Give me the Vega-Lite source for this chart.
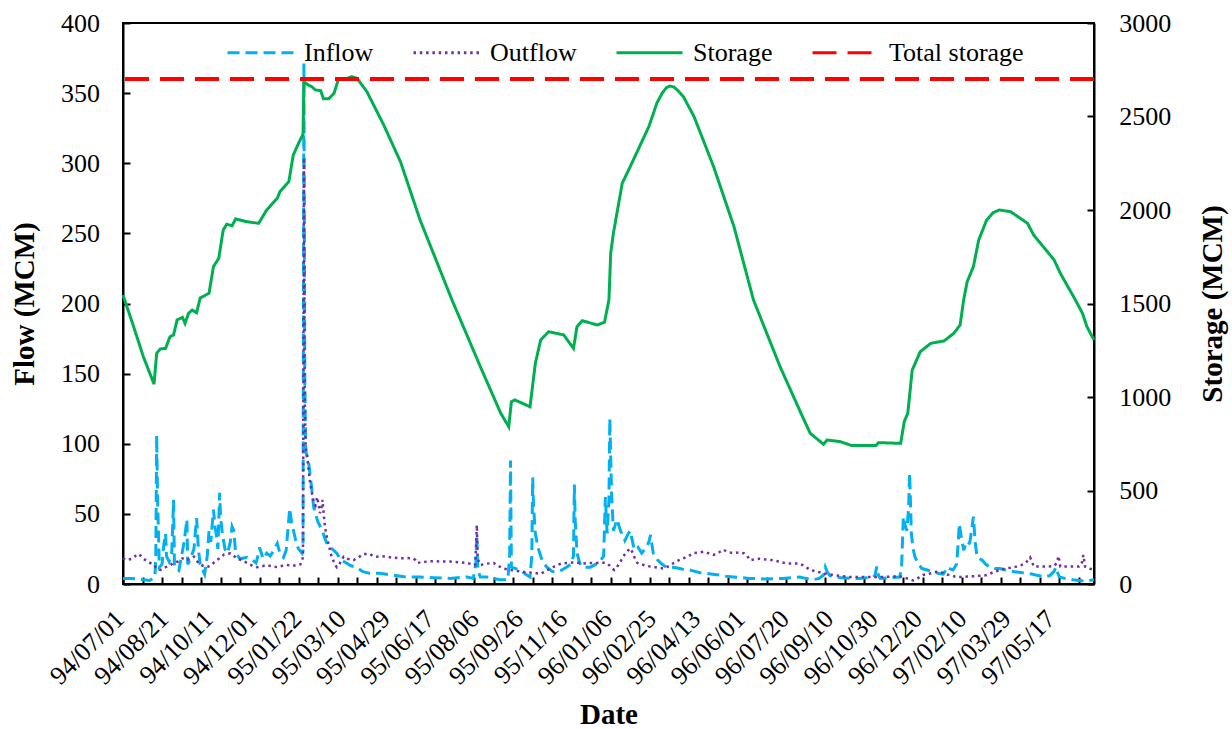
{
  "$schema": "https://vega.github.io/schema/vega-lite/v6.json",
  "autosize": {"type": "none"},
  "padding": {"left": 123, "top": 23, "right": 138, "bottom": 145},
  "width": 971,
  "height": 561,
  "background": "white",
  "config": {
    "font": "Liberation Serif",
    "view": {"stroke": "black", "strokeWidth": 2},
    "axis": {
      "grid": false,
      "domainColor": "black",
      "domainWidth": 2,
      "tickColor": "black",
      "tickWidth": 2,
      "labelColor": "black",
      "labelFont": "Liberation Serif",
      "labelFontSize": 26,
      "titleFont": "Liberation Serif",
      "titleFontSize": 29,
      "titleFontWeight": "bold",
      "titleColor": "black"
    },
    "legend": {
      "orient": "none",
      "legendX": 103,
      "legendY": -5,
      "direction": "horizontal",
      "columns": 4,
      "symbolType": "stroke",
      "symbolSize": 4356,
      "symbolStrokeWidth": 3,
      "labelFont": "Liberation Serif",
      "labelFontSize": 26,
      "labelColor": "black",
      "labelOffset": 9,
      "labelLimit": 300,
      "columnPadding": 33,
      "padding": 0
    }
  },
  "datasets": {
    "inflow": [
      {"d":0,"v":4},{"d":10,"v":4},{"d":23,"v":3},{"d":30,"v":2.5},{"d":36,"v":5},{"d":37,"v":20},{"d":38,"v":106},{"d":39,"v":60},{"d":40,"v":36},{"d":41,"v":12},{"d":44,"v":14},{"d":46,"v":28},{"d":48,"v":36},{"d":49,"v":20},{"d":52,"v":16},{"d":55,"v":22},{"d":57,"v":60},{"d":58,"v":14},{"d":61,"v":10},{"d":63,"v":9.5},{"d":66,"v":20},{"d":69,"v":30},{"d":72,"v":46},{"d":73,"v":14},{"d":76,"v":18},{"d":80,"v":25},{"d":83,"v":47},{"d":85,"v":25},{"d":87,"v":14},{"d":90,"v":10},{"d":92,"v":7},{"d":95,"v":20},{"d":97,"v":38},{"d":99,"v":30},{"d":102,"v":53},{"d":104,"v":40},{"d":105,"v":36},{"d":107,"v":25},{"d":109,"v":65},{"d":110,"v":48},{"d":112,"v":36},{"d":115,"v":25},{"d":118,"v":22},{"d":121,"v":30},{"d":123,"v":41},{"d":125,"v":38},{"d":127,"v":22},{"d":132,"v":18},{"d":140,"v":19},{"d":146,"v":17},{"d":150,"v":15},{"d":153,"v":22},{"d":154,"v":26},{"d":158,"v":18},{"d":162,"v":22},{"d":166,"v":20},{"d":170,"v":24},{"d":174,"v":29},{"d":177,"v":22},{"d":181,"v":19},{"d":184,"v":24},{"d":188,"v":54},{"d":190,"v":44},{"d":193,"v":36},{"d":196,"v":28},{"d":198,"v":25},{"d":202,"v":22},{"d":203,"v":24},{"d":204,"v":372},{"d":205,"v":150},{"d":206,"v":95},{"d":209,"v":88},{"d":211,"v":78},{"d":213,"v":67},{"d":215,"v":55},{"d":217,"v":50},{"d":220,"v":44},{"d":224,"v":39},{"d":228,"v":32},{"d":231,"v":27},{"d":236,"v":25},{"d":241,"v":22},{"d":246,"v":17},{"d":252,"v":15},{"d":257,"v":13},{"d":263,"v":12},{"d":270,"v":9},{"d":278,"v":7.6},{"d":289,"v":7.6},{"d":304,"v":6.4},{"d":319,"v":5},{"d":334,"v":5},{"d":350,"v":4.5},{"d":369,"v":4},{"d":388,"v":5},{"d":395,"v":4},{"d":398,"v":15},{"d":399,"v":35},{"d":400,"v":10},{"d":403,"v":5},{"d":410,"v":5},{"d":418,"v":4},{"d":425,"v":3},{"d":434,"v":3},{"d":436,"v":20},{"d":437,"v":88},{"d":438,"v":12},{"d":443,"v":11},{"d":448,"v":10},{"d":454,"v":7},{"d":459,"v":5},{"d":461,"v":20},{"d":462,"v":76},{"d":463,"v":55},{"d":465,"v":36},{"d":468,"v":26},{"d":473,"v":16},{"d":478,"v":12},{"d":484,"v":9},{"d":489,"v":8.5},{"d":495,"v":10},{"d":500,"v":12},{"d":505,"v":14},{"d":508,"v":20},{"d":509,"v":71},{"d":510,"v":45},{"d":512,"v":22},{"d":515,"v":15},{"d":518,"v":12},{"d":523,"v":12},{"d":527,"v":12},{"d":533,"v":14},{"d":539,"v":17},{"d":542,"v":20},{"d":544,"v":62},{"d":545,"v":48},{"d":546,"v":36},{"d":548,"v":60},{"d":549,"v":118},{"d":550,"v":90},{"d":551,"v":64},{"d":553,"v":38},{"d":555,"v":42},{"d":557,"v":46},{"d":559,"v":42},{"d":561,"v":38},{"d":564,"v":34},{"d":566,"v":31},{"d":569,"v":35},{"d":572,"v":38},{"d":574,"v":32},{"d":576,"v":26},{"d":579,"v":24},{"d":581,"v":26},{"d":583,"v":24},{"d":585,"v":22},{"d":590,"v":26},{"d":593,"v":30},{"d":595,"v":35},{"d":596,"v":30},{"d":598,"v":22},{"d":603,"v":17},{"d":608,"v":14},{"d":613,"v":12},{"d":620,"v":12},{"d":628,"v":11},{"d":634,"v":10},{"d":639,"v":10},{"d":645,"v":9},{"d":651,"v":8},{"d":657,"v":7.6},{"d":665,"v":7},{"d":673,"v":6.4},{"d":680,"v":5.5},{"d":688,"v":5},{"d":697,"v":4.5},{"d":706,"v":4},{"d":715,"v":3.8},{"d":725,"v":3.5},{"d":735,"v":3.8},{"d":744,"v":4},{"d":754,"v":4.5},{"d":763,"v":5},{"d":770,"v":4},{"d":778,"v":3},{"d":785,"v":4},{"d":790,"v":6.4},{"d":792,"v":12},{"d":794,"v":8.8},{"d":797,"v":6},{"d":801,"v":5},{"d":810,"v":4.5},{"d":820,"v":4},{"d":830,"v":4},{"d":839,"v":4.5},{"d":845,"v":4.5},{"d":848,"v":6},{"d":850,"v":12.4},{"d":852,"v":6},{"d":854,"v":4},{"d":865,"v":4.5},{"d":876,"v":5},{"d":878,"v":12},{"d":880,"v":48},{"d":882,"v":42},{"d":884,"v":38},{"d":886,"v":55},{"d":887,"v":79},{"d":888,"v":60},{"d":889,"v":36},{"d":891,"v":25},{"d":893,"v":19.5},{"d":897,"v":14},{"d":901,"v":11},{"d":907,"v":10},{"d":914,"v":8.5},{"d":920,"v":7.5},{"d":925,"v":7},{"d":927,"v":9},{"d":929,"v":12},{"d":932,"v":11},{"d":936,"v":10},{"d":940,"v":14},{"d":942,"v":30},{"d":943,"v":43},{"d":945,"v":35},{"d":948,"v":24},{"d":950,"v":28},{"d":952,"v":26.5},{"d":955,"v":30},{"d":957,"v":38},{"d":959,"v":48},{"d":961,"v":30},{"d":963,"v":19.5},{"d":966,"v":18},{"d":969,"v":17},{"d":973,"v":14},{"d":978,"v":12},{"d":983,"v":11},{"d":989,"v":11},{"d":995,"v":10},{"d":1001,"v":9},{"d":1008,"v":8.5},{"d":1014,"v":8},{"d":1020,"v":7.5},{"d":1026,"v":7},{"d":1032,"v":6},{"d":1039,"v":5},{"d":1045,"v":6},{"d":1050,"v":9},{"d":1052,"v":12},{"d":1054,"v":8},{"d":1056,"v":5},{"d":1062,"v":4},{"d":1071,"v":3},{"d":1078,"v":2.5},{"d":1086,"v":2},{"d":1090,"v":2.5},{"d":1095,"v":3}
    ],
    "outflow": [
      {"d":0,"v":18.3},{"d":4,"v":17},{"d":10,"v":18},{"d":14,"v":20},{"d":18,"v":21.4},{"d":23,"v":18},{"d":28,"v":16},{"d":35,"v":13.5},{"d":38,"v":11},{"d":42,"v":10},{"d":48,"v":12},{"d":52,"v":13},{"d":57,"v":15},{"d":62,"v":16},{"d":67,"v":18.3},{"d":72,"v":17},{"d":76,"v":18},{"d":80,"v":19.5},{"d":85,"v":15},{"d":90,"v":13},{"d":95,"v":12},{"d":98,"v":13},{"d":102,"v":15},{"d":108,"v":18},{"d":114,"v":21},{"d":121,"v":21.8},{"d":125,"v":20},{"d":129,"v":18},{"d":134,"v":17},{"d":140,"v":15},{"d":146,"v":13},{"d":151,"v":12},{"d":156,"v":12.5},{"d":162,"v":13.5},{"d":168,"v":12.5},{"d":174,"v":12},{"d":180,"v":13},{"d":185,"v":13.5},{"d":191,"v":13},{"d":196,"v":13.5},{"d":200,"v":14},{"d":202,"v":16},{"d":203,"v":20},{"d":204,"v":304},{"d":205,"v":130},{"d":206,"v":98},{"d":209,"v":84},{"d":211,"v":72},{"d":213,"v":65},{"d":215,"v":58},{"d":217,"v":56},{"d":219,"v":62},{"d":221,"v":55},{"d":222,"v":50.5},{"d":224,"v":55},{"d":225,"v":60},{"d":227,"v":45},{"d":229,"v":36},{"d":232,"v":28},{"d":235,"v":20},{"d":237,"v":17},{"d":239,"v":14},{"d":241,"v":12},{"d":244,"v":14},{"d":247,"v":18},{"d":249,"v":19.5},{"d":253,"v":18},{"d":257,"v":17.5},{"d":260,"v":17},{"d":264,"v":18.5},{"d":268,"v":20},{"d":271,"v":21.4},{"d":275,"v":21.4},{"d":278,"v":21.4},{"d":282,"v":20},{"d":286,"v":19.5},{"d":291,"v":19.8},{"d":297,"v":19.5},{"d":304,"v":18.8},{"d":312,"v":18.3},{"d":320,"v":18.5},{"d":327,"v":18.3},{"d":330,"v":17},{"d":332,"v":15},{"d":336,"v":15.5},{"d":343,"v":16},{"d":350,"v":16.3},{"d":360,"v":16},{"d":369,"v":16},{"d":378,"v":15.5},{"d":388,"v":15},{"d":394,"v":14},{"d":397,"v":13.5},{"d":398,"v":25},{"d":399,"v":42},{"d":400,"v":18},{"d":403,"v":13.5},{"d":410,"v":14.5},{"d":418,"v":15},{"d":423,"v":13},{"d":429,"v":11},{"d":437,"v":10},{"d":444,"v":9.3},{"d":452,"v":8.6},{"d":460,"v":8},{"d":466,"v":7.6},{"d":471,"v":7.3},{"d":476,"v":9},{"d":482,"v":11},{"d":488,"v":13},{"d":494,"v":14.5},{"d":500,"v":15},{"d":507,"v":15.3},{"d":515,"v":15},{"d":522,"v":14.6},{"d":528,"v":15},{"d":534,"v":15},{"d":540,"v":15.2},{"d":545,"v":15},{"d":549,"v":13},{"d":552,"v":11},{"d":554,"v":10},{"d":557,"v":12},{"d":561,"v":16},{"d":564,"v":19.5},{"d":568,"v":23},{"d":572,"v":25.4},{"d":575,"v":22},{"d":578,"v":17},{"d":580,"v":15},{"d":585,"v":14},{"d":590,"v":13},{"d":595,"v":12.4},{"d":600,"v":12},{"d":605,"v":11.5},{"d":610,"v":11},{"d":615,"v":12.5},{"d":621,"v":15},{"d":627,"v":17},{"d":632,"v":18.3},{"d":638,"v":20},{"d":643,"v":22},{"d":649,"v":22.5},{"d":655,"v":23},{"d":660,"v":22},{"d":666,"v":20.8},{"d":672,"v":22.5},{"d":677,"v":24.5},{"d":681,"v":23},{"d":688,"v":22},{"d":694,"v":22.5},{"d":700,"v":22},{"d":704,"v":20},{"d":707,"v":17},{"d":712,"v":17.5},{"d":718,"v":18},{"d":725,"v":17.5},{"d":733,"v":17},{"d":740,"v":16},{"d":748,"v":14.6},{"d":755,"v":14.6},{"d":763,"v":14.6},{"d":768,"v":13},{"d":775,"v":10},{"d":783,"v":8.8},{"d":790,"v":7.6},{"d":795,"v":7},{"d":801,"v":6.4},{"d":810,"v":5.6},{"d":820,"v":5},{"d":830,"v":5},{"d":839,"v":5},{"d":848,"v":5},{"d":858,"v":5},{"d":866,"v":5.3},{"d":876,"v":5.5},{"d":884,"v":4},{"d":891,"v":2.5},{"d":896,"v":4},{"d":902,"v":6.4},{"d":910,"v":7.5},{"d":915,"v":8.5},{"d":921,"v":8.8},{"d":928,"v":7},{"d":934,"v":6},{"d":940,"v":5},{"d":946,"v":5},{"d":952,"v":5.3},{"d":959,"v":5.5},{"d":965,"v":5.8},{"d":970,"v":6},{"d":974,"v":6.4},{"d":980,"v":8},{"d":984,"v":9},{"d":989,"v":10},{"d":995,"v":11},{"d":1000,"v":11.5},{"d":1008,"v":12.4},{"d":1013,"v":13.5},{"d":1018,"v":15},{"d":1023,"v":19},{"d":1025,"v":16},{"d":1027,"v":12.4},{"d":1034,"v":12.4},{"d":1042,"v":12.4},{"d":1050,"v":12.8},{"d":1053,"v":15},{"d":1055,"v":20},{"d":1057,"v":12.4},{"d":1064,"v":12.4},{"d":1071,"v":12.4},{"d":1078,"v":12.5},{"d":1081,"v":14},{"d":1083,"v":20.7},{"d":1085,"v":12.4},{"d":1090,"v":11},{"d":1095,"v":10}
    ],
    "storage": [
      {"d":0,"v":1545},{"d":12,"v":1376},{"d":23,"v":1215},{"d":35,"v":1069},{"d":38,"v":1234},{"d":42,"v":1257},{"d":48,"v":1260},{"d":53,"v":1322},{"d":57,"v":1332},{"d":61,"v":1412},{"d":67,"v":1426},{"d":70,"v":1394},{"d":74,"v":1448},{"d":78,"v":1465},{"d":83,"v":1451},{"d":87,"v":1529},{"d":97,"v":1555},{"d":102,"v":1697},{"d":108,"v":1742},{"d":113,"v":1893},{"d":117,"v":1924},{"d":123,"v":1916},{"d":127,"v":1952},{"d":140,"v":1937},{"d":153,"v":1929},{"d":162,"v":2000},{"d":174,"v":2063},{"d":177,"v":2098},{"d":187,"v":2151},{"d":192,"v":2294},{"d":198,"v":2357},{"d":203,"v":2405},{"d":204,"v":2686},{"d":209,"v":2668},{"d":213,"v":2659},{"d":217,"v":2642},{"d":223,"v":2638},{"d":226,"v":2595},{"d":232,"v":2595},{"d":238,"v":2624},{"d":243,"v":2700},{"d":253,"v":2704},{"d":258,"v":2713},{"d":264,"v":2704},{"d":275,"v":2633},{"d":294,"v":2455},{"d":313,"v":2257},{"d":335,"v":1947},{"d":371,"v":1519},{"d":403,"v":1162},{"d":426,"v":913},{"d":435,"v":841},{"d":438,"v":975},{"d":442,"v":984},{"d":459,"v":948},{"d":465,"v":1180},{"d":471,"v":1305},{"d":480,"v":1349},{"d":497,"v":1332},{"d":508,"v":1260},{"d":512,"v":1376},{"d":518,"v":1408},{"d":535,"v":1385},{"d":543,"v":1400},{"d":548,"v":1519},{"d":550,"v":1768},{"d":553,"v":1875},{"d":563,"v":2143},{"d":572,"v":2232},{"d":593,"v":2446},{"d":602,"v":2571},{"d":608,"v":2625},{"d":613,"v":2655},{"d":617,"v":2663},{"d":621,"v":2658},{"d":626,"v":2638},{"d":632,"v":2606},{"d":644,"v":2499},{"d":666,"v":2232},{"d":689,"v":1911},{"d":711,"v":1519},{"d":741,"v":1162},{"d":766,"v":898},{"d":775,"v":806},{"d":790,"v":747},{"d":794,"v":770},{"d":809,"v":761},{"d":822,"v":740},{"d":849,"v":740},{"d":852,"v":756},{"d":877,"v":752},{"d":881,"v":868},{"d":885,"v":913},{"d":890,"v":1144},{"d":899,"v":1242},{"d":911,"v":1287},{"d":926,"v":1300},{"d":937,"v":1341},{"d":944,"v":1385},{"d":948,"v":1519},{"d":952,"v":1617},{"d":959,"v":1697},{"d":965,"v":1840},{"d":974,"v":1947},{"d":981,"v":1985},{"d":988,"v":2000},{"d":1001,"v":1991},{"d":1020,"v":1929},{"d":1027,"v":1866},{"d":1050,"v":1733},{"d":1057,"v":1662},{"d":1072,"v":1536},{"d":1082,"v":1448},{"d":1087,"v":1376},{"d":1095,"v":1305}
    ],
    "capacity": [{"v": 2700}]
  },
  "layer": [
    {
      "data": {"name": "inflow"},
      "mark": {"type": "line", "strokeWidth": 3, "strokeCap": "butt"},
      "encoding": {
        "x": {
          "field": "d", "type": "quantitative",
          "scale": {"domain": [0, 1095], "nice": false, "zero": false},
          "axis": {
            "orient": "bottom",
            "values": [0,50,100,150,200,250,300,350,400,450,500,550,600,650,700,750,800,850,900,950,1000,1050],
            "labelExpr": "['94/07/01','94/08/21','94/10/11','94/12/01','95/01/22','95/03/10','95/04/29','95/06/17','95/08/06','95/09/26','95/11/16','96/01/06','96/02/25','96/04/13','96/06/01','96/07/20','96/09/10','96/10/30','96/12/20','97/02/10','97/03/29','97/05/17'][round(datum.value / 50)]",
            "ticks": false,
            "labelAngle": -45,
            "labelAlign": "right",
            "labelBaseline": "middle",
            "labelPadding": 30.5,
            "labelOffset": -3.5,
            "labelFlush": false,
            "labelOverlap": false,
            "title": "Date",
            "titleBaseline": "alphabetic",
            "titleY": 139
          }
        },
        "y": {
          "field": "v", "type": "quantitative",
          "scale": {"domain": [0, 400], "nice": false},
          "axis": {
            "orient": "left",
            "values": [0,50,100,150,200,250,300,350,400],
            "tickSize": -7,
            "tickColor": "black",
            "tickWidth": 2,
            "labelPadding": 30.5,
            "title": "Flow (MCM)",
            "titleAngle": 270,
            "titleAlign": "center",
            "titleBaseline": "alphabetic",
            "titleX": -90,
            "titleY": 280.5
          }
        },
        "color": {
          "datum": "Inflow", "type": "nominal",
          "scale": {"domain": ["Inflow", "Outflow", "Storage", "Total storage"], "range": ["#00B0F0", "#7030A0", "#00B050", "#FF0000"]},
          "legend": {"title": null}
        },
        "strokeDash": {
          "datum": "Inflow", "type": "nominal",
          "scale": {"domain": ["Inflow", "Outflow", "Storage", "Total storage"], "range": [[12, 6], [2.5, 3.8], [1, 0], [24, 11]]},
          "legend": {"title": null}
        }
      }
    },
    {
      "data": {"name": "outflow"},
      "mark": {"type": "line", "strokeWidth": 2.5, "strokeCap": "butt"},
      "encoding": {
        "x": {"field": "d", "type": "quantitative", "axis": null},
        "y": {"field": "v", "type": "quantitative", "scale": {"domain": [0, 400], "nice": false}, "axis": null},
        "color": {"datum": "Outflow", "type": "nominal"},
        "strokeDash": {"datum": "Outflow", "type": "nominal"}
      }
    },
    {
      "data": {"name": "storage"},
      "mark": {"type": "line", "strokeWidth": 3},
      "encoding": {
        "x": {
          "field": "d", "type": "quantitative",
          "axis": {
            "orient": "bottom",
            "values": [0,22,44,66,88,110,132,154,176,198,220,242,264,286,308,330,352,374,396,418,440,462,484,506,528,550,572,594,616,638,660,682,704,726,748,770,792,814,836,858,880,902,924,946,968,990,1012,1034,1056,1078],
            "labels": false,
            "domain": false,
            "tickSize": -7,
            "tickColor": "black",
            "tickWidth": 2,
            "title": null
          }
        },
        "y": {
          "field": "v", "type": "quantitative",
          "scale": {"domain": [0, 3000], "nice": false},
          "axis": {
            "orient": "right",
            "values": [0,500,1000,1500,2000,2500,3000],
            "format": "d",
            "tickSize": -7,
            "tickColor": "black",
            "tickWidth": 2,
            "labelPadding": 31.8,
            "title": "Storage (MCM)",
            "titleAngle": 270,
            "titleAlign": "center",
            "titleBaseline": "alphabetic",
            "titleX": 127.5,
            "titleY": 280.5
          }
        },
        "color": {"datum": "Storage", "type": "nominal"},
        "strokeDash": {"datum": "Storage", "type": "nominal"}
      }
    },
    {
      "data": {"name": "capacity"},
      "mark": {"type": "rule", "strokeWidth": 4},
      "encoding": {
        "y": {"field": "v", "type": "quantitative", "scale": {"domain": [0, 3000], "nice": false}, "axis": null},
        "color": {"datum": "Total storage", "type": "nominal"},
        "strokeDash": {"datum": "Total storage", "type": "nominal"}
      }
    }
  ],
  "resolve": {
    "scale": {"y": "independent"},
    "axis": {"x": "independent", "y": "independent"}
  }
}
